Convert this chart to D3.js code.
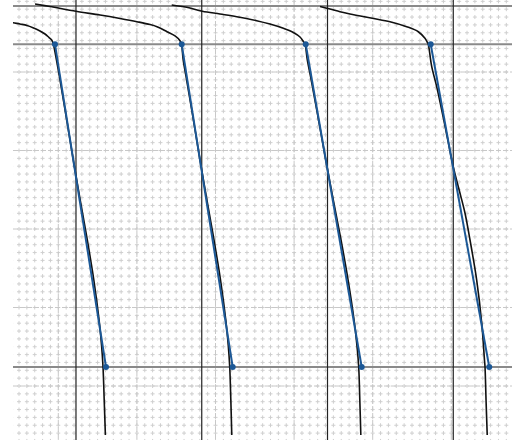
<!DOCTYPE html>
<html><head><meta charset="utf-8">
<script src="https://cdn.jsdelivr.net/npm/d3@7"></script>
<style>html,body{margin:0;padding:0;background:#fff;} svg{display:block}</style>
</head><body>
<svg id="chart" width="512" height="440"></svg>
<script>
// ---- data (time units, value units) ----
const levels = [48.41, 43.53, 2.42];          // gray reference levels
const periodMarks = [2.25, 18.25, 34.25, 50.25]; // black vertical marks
const cycle1 = [[-6.78,46.50],[-5.76,46.28],[-4.87,46.11],[-3.98,45.92],[-3.22,45.64],[-2.33,45.22],[-1.69,44.84],[-1.18,44.39],[-0.84,44.08],[-0.64,43.57],[-0.23,41.53],[0.22,38.98],[1.07,33.89],[1.91,28.79],[2.79,23.69],[3.69,18.60],[4.52,13.50],[5.19,8.41],[5.50,5.22],[5.69,2.42],[5.84,-1.78],[5.99,-6.24]];
const cycle2 = [[-2.96,48.66],[-1.06,48.34],[2.25,47.73],[5.31,47.26],[7.85,46.82],[10.01,46.41],[11.67,46.05],[12.56,45.77],[13.83,45.13],[14.85,44.59],[15.48,43.99],[15.67,43.57],[15.89,41.53],[16.33,38.98],[17.19,33.89],[18.03,28.79],[18.91,23.69],[19.81,18.60],[20.64,13.50],[21.31,8.41],[21.62,5.22],[21.81,2.42],[21.95,-1.78],[22.07,-6.24]];
const cycle3 = [[14.43,48.54],[16.34,48.24],[18.32,47.75],[20.57,47.39],[22.70,47.04],[25.24,46.54],[26.93,46.11],[28.63,45.57],[29.90,45.03],[30.75,44.46],[31.17,43.89],[31.39,43.53],[31.68,41.53],[32.18,38.98],[33.11,33.89],[34.03,28.79],[34.99,23.69],[35.97,18.60],[36.87,13.50],[37.63,8.41],[37.99,5.22],[38.22,2.42],[38.36,-1.78],[38.49,-6.24]];
const cycle4 = [[33.30,48.34],[34.57,48.03],[35.84,47.68],[37.11,47.39],[39.95,46.84],[42.20,46.41],[44.33,45.77],[45.80,45.13],[46.65,44.29],[46.95,43.78],[47.07,43.53],[47.51,40.68],[48.14,38.13],[49.20,33.12],[50.25,27.94],[51.00,24.97],[51.74,22.04],[52.38,18.60],[53.23,13.50],[53.87,8.03],[54.22,3.31],[54.29,2.42],[54.42,-1.78],[54.57,-6.24]];
const fitStart = [[-0.42,43.53],[15.70,43.53],[31.48,43.53],[47.38,43.53]];
const fitEnd   = [[6.07,2.42],[22.19,2.42],[38.60,2.42],[54.83,2.42]];
const cycles = [cycle1, cycle2, cycle3, cycle4];

// ---- layout ----
const W = 512, H = 440;
const plot = {left: 13, top: 0, right: 512, bottom: 440};
const x = d3.scaleLinear().domain([0, 10]).range([58.3, 136.9]);
const y = d3.scaleLinear().domain([0, 10]).range([386, 307.5]);
const kx = x(1) - x(0), ky = y(0) - y(1);

const svg = d3.select("#chart");
svg.append("defs").append("clipPath").attr("id", "clip")
  .append("rect").attr("x", plot.left).attr("y", plot.top)
  .attr("width", plot.right - plot.left).attr("height", plot.bottom - plot.top);
const g = svg.append("g").attr("clip-path", "url(#clip)");

const tMin = Math.floor(x.invert(plot.left)) - 1, tMax = Math.ceil(x.invert(plot.right)) + 1;
const vMin = Math.floor(y.invert(plot.bottom)) - 1, vMax = Math.ceil(y.invert(plot.top)) + 1;
const tVals = d3.range(tMin, tMax + 1), vVals = d3.range(vMin, vMax + 1);
const arm = 2;
const minorColor = "#cfcfcf";

// minor grid: crosses at every unit
g.append("g").selectAll("line").data(vVals).join("line")
  .attr("x1", x(tMin) - arm).attr("x2", x(tMax) + arm)
  .attr("y1", d => y(d)).attr("y2", d => y(d))
  .attr("stroke", minorColor).attr("stroke-width", 1)
  .attr("stroke-dasharray", `${2*arm} ${kx - 2*arm}`);
g.append("g").selectAll("line").data(tVals).join("line")
  .attr("x1", d => x(d)).attr("x2", d => x(d))
  .attr("y1", y(vMax) - arm).attr("y2", y(vMin) + arm)
  .attr("stroke", minorColor).attr("stroke-width", 1)
  .attr("stroke-dasharray", `${2*arm} ${ky - 2*arm}`);

// medium dashed grid every 10 units
const tMed = tVals.filter(d => d % 10 === 0), vMed = vVals.filter(d => d % 10 === 0);
g.append("g").selectAll("line").data(tMed).join("line")
  .attr("x1", d => x(d)).attr("x2", d => x(d))
  .attr("y1", plot.top).attr("y2", plot.bottom)
  .attr("stroke", "#c8c8c8").attr("stroke-width", 1).attr("stroke-dasharray", "5 2");
g.append("g").selectAll("line").data(vMed).join("line")
  .attr("x1", plot.left).attr("x2", plot.right)
  .attr("y1", d => y(d)).attr("y2", d => y(d))
  .attr("stroke", "#c8c8c8").attr("stroke-width", 1).attr("stroke-dasharray", "5 2");

// gray reference levels
g.append("g").selectAll("line").data(levels).join("line")
  .attr("x1", plot.left).attr("x2", plot.right)
  .attr("y1", d => y(d)).attr("y2", d => y(d))
  .attr("stroke", "#8a8a8a").attr("stroke-width", 2);

// black period marks
g.append("g").selectAll("line").data(periodMarks).join("line")
  .attr("x1", d => x(d)).attr("x2", d => x(d))
  .attr("y1", plot.top).attr("y2", plot.bottom)
  .attr("stroke", "#222").attr("stroke-width", 1.2);

// black measured curves
const line = d3.line().x(d => x(d[0])).y(d => y(d[1])).curve(d3.curveCatmullRom.alpha(0.5));
g.append("g").selectAll("path").data(cycles).join("path")
  .attr("d", line).attr("fill", "none")
  .attr("stroke", "#111").attr("stroke-width", 1.6);

// blue fitted segments
const blue = "#1c5896";
const fits = fitStart.map((s, i) => [s, fitEnd[i]]);
g.append("g").selectAll("line").data(fits).join("line")
  .attr("x1", d => x(d[0][0])).attr("y1", d => y(d[0][1]))
  .attr("x2", d => x(d[1][0])).attr("y2", d => y(d[1][1]))
  .attr("stroke", blue).attr("stroke-width", 2);
g.append("g").selectAll("circle").data(fitStart.concat(fitEnd)).join("circle")
  .attr("cx", d => x(d[0])).attr("cy", d => y(d[1])).attr("r", 3)
  .attr("fill", blue);
</script>
</body></html>
